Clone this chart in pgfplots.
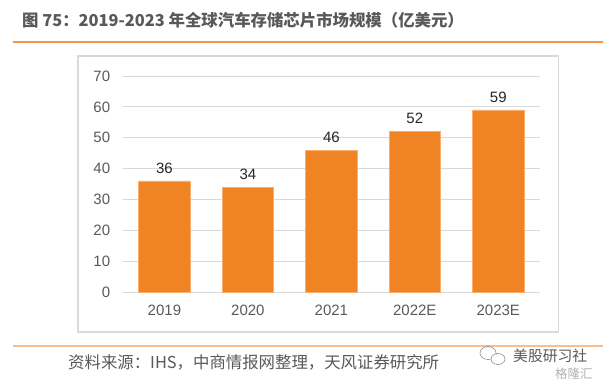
\documentclass[border=0pt]{standalone}
\usepackage{fontspec}
\setmainfont{Liberation Sans}
\newfontfamily\cjk{Noto Sans CJK SC}
\usepackage{pgfplots}
\pgfplotsset{compat=1.18}
\definecolor{barorange}{RGB}{240,132,36}
\definecolor{baredge}{RGB}{250,175,110}
\definecolor{lineorange}{RGB}{247,150,70}
\definecolor{lineorangelt}{RGB}{250,190,140}
\definecolor{txtgray}{RGB}{89,89,89}
\definecolor{gridgray}{RGB}{217,217,217}
\begin{document}
\begin{tikzpicture}[x=1pt,y=1pt]
\path (0,0) rectangle (606,-384);
\node[anchor=west, text=txtgray, font=\cjk\bfseries\fontsize{16.4}{19}\selectfont, inner sep=0] at (22,-20) {图 75：2019-2023 年全球汽车存储芯片市场规模（亿美元）};
\draw[lineorange, line width=1.2] (13,-42) -- (603,-42);
\draw[gridgray, line width=1.2] (78,-56) rectangle (558.5,-332);
\begin{axis}[at={(122.7pt,-292pt)}, anchor=south west, scale only axis,
  width=417.3pt, height=216pt,
  xmin=-0.5, xmax=4.5, ymin=0, ymax=70,
  /pgf/number format/assume math mode=true,
  axis x line*=bottom, axis y line*=left,
  x axis line style={draw=gridgray, line width=1pt, -},
  y axis line style={draw=none},
  major tick length=0pt,
  ymajorgrids, grid style={draw=gridgray, line width=1pt},
  ytick={0,10,...,70},
  xtick={0,1,2,3,4},
  xticklabels={2019,2020,2021,2022E,2023E},
  tick label style={text=txtgray, font=\fontsize{15}{17}\selectfont},
  yticklabel style={xshift=-9pt},
  xticklabel style={yshift=-9pt},
  ybar, bar width=51.5pt,
  nodes near coords,
  every node near coord/.append style={font=\fontsize{15}{17}\selectfont, text=black!85, yshift=4pt},
]
\addplot[fill=barorange, draw=baredge, line width=0.6pt] coordinates {(0,36) (1,34) (2,46) (3,52) (4,59)};
\end{axis}
\draw[lineorangelt, line width=1.2] (13,-346) -- (603,-346);
\node[anchor=west, text=txtgray, font=\cjk\fontsize{16.4}{19}\selectfont, inner sep=0] at (68,-362) {资料来源：IHS，中商情报网整理，天风证券研究所};
\draw[black!45, line width=0.6pt] (488,-353) ellipse (8 and 6.5);
\draw[black!45, line width=0.6pt, fill=white] (498,-359) ellipse (7 and 5.5);
\node[anchor=west, text=black!65, font=\cjk\fontsize{14.8}{17}\selectfont, inner sep=0] at (513,-356) {美股研习社};
\node[anchor=west, text=black!30, font=\cjk\fontsize{12.5}{14}\selectfont, inner sep=0] at (555,-374) {格隆汇};
\end{tikzpicture}
\end{document}
